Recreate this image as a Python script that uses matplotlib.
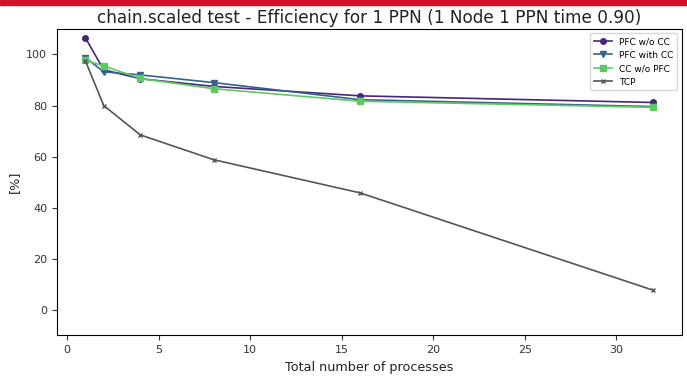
import matplotlib
matplotlib.use("Agg")
import matplotlib.pyplot as plt
from matplotlib.patches import Rectangle

processes = [1, 2, 4, 8, 16, 32]
pfc_wo_cc = [106.5, 94.0, 90.5, 87.5, 83.8, 81.2]
pfc_with_cc = [98.8, 93.2, 92.0, 89.0, 82.3, 79.6]
cc_wo_pfc = [97.8, 95.5, 90.6, 86.6, 81.7, 79.3]
tcp = [97.5, 80.0, 68.5, 58.8, 45.8, 7.7]

series = [
    ("PFC w/o CC", pfc_wo_cc, "#482677", "o", 4),
    ("PFC with CC", pfc_with_cc, "#33638d", "v", 4),
    ("CC w/o PFC", cc_wo_pfc, "#5ec962", "s", 4),
    ("TCP", tcp, "#555555", "x", 3.5),
]

fig = plt.figure(figsize=(6.87, 3.76), dpi=100)
ax = fig.add_axes([0.083, 0.108, 0.909, 0.815])

for label, vals, color, marker, ms in series:
    ax.plot(processes, vals, color=color, marker=marker, markersize=ms,
            linewidth=1.2, label=label)

ax.set_ylim(-10, 110)
ax.set_title("chain.scaled test - Efficiency for 1 PPN (1 Node 1 PPN time 0.90)",
             fontsize=12.2, color="#222222", pad=4)
ax.set_xlabel("Total number of processes", fontsize=9.2, color="#222222")
ax.set_ylabel("[%]", fontsize=9.2, color="#222222")
ax.tick_params(labelsize=8, colors="#333333")
ax.legend(loc="upper right", fontsize=6.5, handlelength=2)

# red banner strip across the top edge
fig.patches.append(Rectangle((0, 0.987), 1, 0.013, transform=fig.transFigure,
                             color="#d2102a", zorder=10))

fig.savefig("out.png", dpi=100)
